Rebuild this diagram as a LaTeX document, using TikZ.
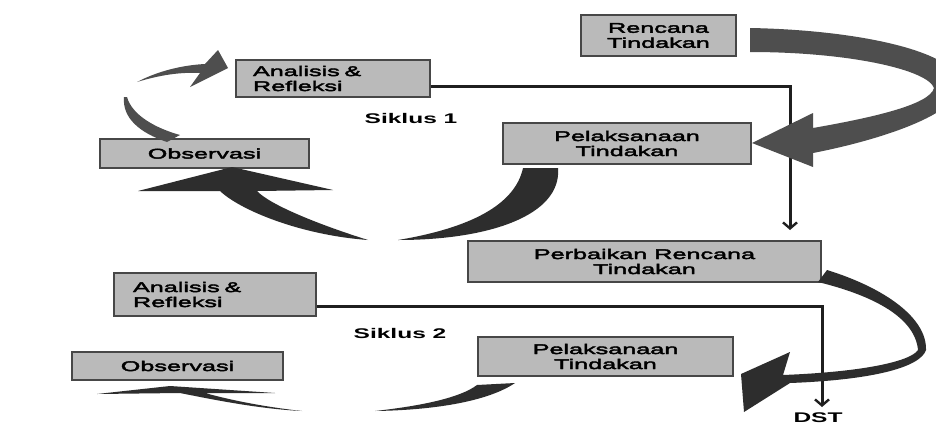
\documentclass[tikz,border=0pt]{standalone}
\usepackage{fontspec}
\setmainfont{Liberation Sans}
\newfontfamily\boxfont[FakeStretch=1.8,FakeBold=3]{Liberation Sans}
\newfontfamily\lblfont[FakeStretch=1.75]{Liberation Sans Bold}
\usetikzlibrary{arrows.meta}
\definecolor{boxgray}{RGB}{186,186,186}
\definecolor{swoopA}{RGB}{78,78,78}
\definecolor{swoopB}{RGB}{45,45,45}
\tikzset{
  box/.style={draw=black!72, line width=1.8pt, fill=boxgray, inner sep=0pt, align=center,
    font=\boxfont\fontsize{14}{15}\selectfont},
  conn/.style={draw=black!88, line width=3pt, -{Straight Barb[length=6pt,width=14pt,line width=2.4pt]}},
  swoop/.style={fill=swoopB, draw=none},
  lbl/.style={font=\lblfont\fontsize{14}{15}\selectfont, inner sep=0pt}
}
\begin{document}
\begin{tikzpicture}[x=1pt,y=-1pt]
\useasboundingbox (0,0) rectangle (936,426);
\clip (0,0) rectangle (936,426);
\fill[white] (0,0) rectangle (936,426);

% boxes
\node[box, minimum width=155pt, minimum height=41pt] (rt) at (658.5,35.5) {Rencana\\Tindakan};
\node[box, minimum height=37pt, text width=160pt, inner xsep=17pt, align=left] (a1) at (333,78.5) {Analisis \&\\Refleksi};
\node[box, minimum width=209pt, minimum height=29pt] (o1) at (204.5,153.5) {Observasi};
\node[box, minimum width=248pt, minimum height=41pt] (p1) at (627,143.5) {Pelaksanaan\\Tindakan};
\node[box, minimum width=353pt, minimum height=41pt] (pr) at (644.5,261.5) {Perbaikan Rencana\\Tindakan};
\node[box, minimum height=43pt, text width=164pt, inner xsep=19pt, align=left] (a2) at (215,294.5) {Analisis \&\\Refleksi};
\node[box, minimum width=211pt, minimum height=28pt] (o2) at (177.5,366) {Observasi};
\node[box, minimum width=255pt, minimum height=39pt] (p2) at (605.5,356.5) {Pelaksanaan\\Tindakan};

% labels
\node[lbl] (s1) at (411,118) {Siklus 1};
\node[lbl] (s2) at (400,333) {Siklus 2};
\node[lbl] (dst) at (818,418) {DST};

% connectors
\coordinate (k1) at (790,86);
\coordinate (k1e) at (790,230);
\draw[conn] (a1.east |- k1) -- (k1) -- (k1e);
\coordinate (k2) at (822,306);
\coordinate (k2e) at (822,407);
\draw[conn] (a2.east |- k2) -- (k2) -- (k2e);

% A: Rencana -> Pelaksanaan 1
\fill[swoopA] (750,28) .. controls (860,30) and (960,52) .. (960,85)
  .. controls (960,114) and (880,140) .. (813,153)
  -- (813,167) -- (752,143) -- (813,113) -- (813,128)
  .. controls (870,118) and (930,105) .. (934,88)
  .. controls (928,70) and (850,52) .. (750,52) -- cycle;

% B: Pelaksanaan 1 -> Observasi 1
\fill[swoop] (523,168) -- (558,168) .. controls (562,215) and (490,240) .. (398,240)
  .. controls (470,228) and (515,205) .. (523,168) -- cycle;
\fill[swoop] (368,240) .. controls (320,225) and (270,205) .. (257,191)
  -- (333,190) -- (232,167) -- (138,191) -- (220,191)
  .. controls (240,210) and (300,235) .. (368,240) -- cycle;

% C: Observasi 1 -> Analisis 1
\fill[swoopA] (124,97) .. controls (122,118) and (140,133) .. (167,142) -- (180,135)
  .. controls (155,128) and (132,115) .. (127,97) -- cycle;
\fill[swoopA] (137,82) .. controls (160,70) and (185,65) .. (205,64) -- (218,50) -- (228,68)
  -- (190,87) -- (200,73) .. controls (180,72) and (160,75) .. (137,82) -- cycle;

% D: Perbaikan -> Pelaksanaan 2
\fill[swoopB] (827,270) .. controls (885,288) and (927,318) .. (926,350)
  .. controls (920,368) and (870,380) .. (790,383)
  -- (744,412) -- (741,374) -- (790,352) -- (783,375)
  .. controls (860,372) and (910,362) .. (918,350)
  .. controls (915,318) and (875,296) .. (818,282) -- cycle;

% E: Pelaksanaan 2 -> Observasi 2
\fill[swoop] (477,385) -- (515,383) .. controls (490,400) and (440,410) .. (375,411)
  .. controls (420,406) and (460,398) .. (477,385) -- cycle;
\fill[swoop] (302,411) .. controls (260,409) and (215,400) .. (180,393) -- (97,394)
  -- (170,386) -- (275,393) -- (205,393)
  .. controls (230,400) and (265,407) .. (302,411) -- cycle;
\end{tikzpicture}
\end{document}
